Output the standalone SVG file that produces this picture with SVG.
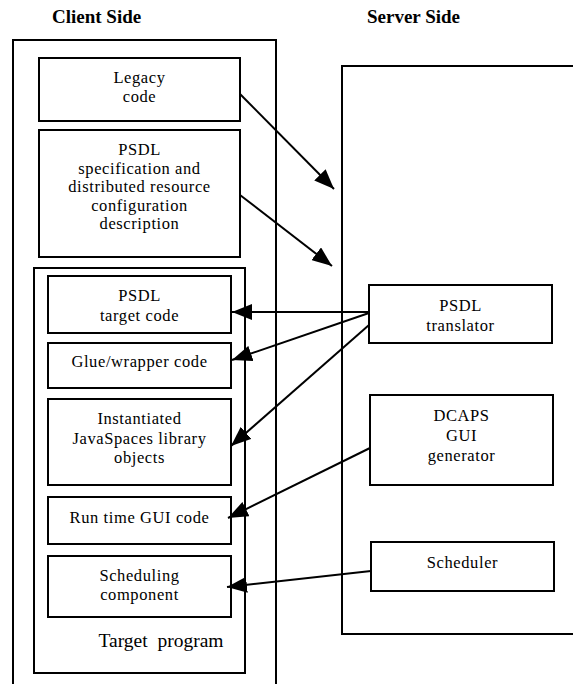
<svg xmlns="http://www.w3.org/2000/svg" width="573" height="684" viewBox="0 0 573 684">
<style>
.box{fill:none;stroke:#000;stroke-width:2}
.t{font-family:'Liberation Serif','DejaVu Serif',Tinos,'Times New Roman',serif;font-size:16.5px;letter-spacing:0.6px;text-anchor:middle;fill:#000}
.h{font-family:'Liberation Serif','DejaVu Serif',Tinos,'Times New Roman',serif;font-size:19px;font-weight:bold;fill:#000}
.c{fill:none;stroke:#000;stroke-width:2;marker-end:url(#ah)}
</style>
<defs>
<marker id="ah" viewBox="0 0 20 16" refX="20" refY="8" markerWidth="20" markerHeight="16" markerUnits="userSpaceOnUse" orient="auto">
<path d="M0,0 L20,8 L0,16 Z" fill="#000"/>
</marker>
</defs>
<rect width="573" height="684" fill="#fff"/>
<text class="h" x="52" y="23">Client Side</text>
<text class="h" x="367" y="23">Server Side</text>
<g id="client-side"><rect class="box" x="13" y="40" width="263" height="660"/></g>
<g id="server-side"><rect class="box" x="342" y="66" width="250" height="568"/></g>
<g id="legacy-code"><rect class="box" x="39" y="58" width="201" height="63"/>
<text class="t" x="139.5" y="83">Legacy</text><text class="t" x="139.5" y="102">code</text></g>
<g id="psdl-spec"><rect class="box" x="39" y="130" width="201" height="127"/>
<text class="t" x="139.5" y="155">PSDL</text>
<text class="t" x="139.5" y="173.5">specification and</text>
<text class="t" x="139.5" y="192">distributed resource</text>
<text class="t" x="139.5" y="210.5">configuration</text>
<text class="t" x="139.5" y="229">description</text></g>
<g id="target-program"><rect class="box" x="34" y="268" width="211" height="405"/>
<text class="t" x="161" y="647" style="font-size:19.5px;letter-spacing:0;white-space:pre" xml:space="preserve">Target  program</text></g>
<g id="psdl-target-code"><rect class="box" x="48" y="276" width="183" height="57"/>
<text class="t" x="139.5" y="301">PSDL</text><text class="t" x="139.5" y="321">target code</text></g>
<g id="glue-code"><rect class="box" x="48" y="343" width="183" height="45"/>
<text class="t" x="139.5" y="367">Glue/wrapper code</text></g>
<g id="javaspaces"><rect class="box" x="48" y="399" width="183" height="86"/>
<text class="t" x="139.5" y="424">Instantiated</text>
<text class="t" x="139.5" y="444">JavaSpaces library</text>
<text class="t" x="139.5" y="463">objects</text></g>
<g id="runtime-gui"><rect class="box" x="48" y="497" width="183" height="47"/>
<text class="t" x="139.5" y="523">Run time GUI code</text></g>
<g id="scheduling-component"><rect class="box" x="48" y="556" width="183" height="61"/>
<text class="t" x="139.5" y="581">Scheduling</text><text class="t" x="139.5" y="600">component</text></g>
<g id="psdl-translator"><rect class="box" x="369" y="285" width="183" height="58"/>
<text class="t" x="460.5" y="311">PSDL</text><text class="t" x="460.5" y="331">translator</text></g>
<g id="dcaps-gui-generator"><rect class="box" x="370" y="395" width="183" height="90"/>
<text class="t" x="461.5" y="421">DCAPS</text><text class="t" x="461.5" y="441">GUI</text><text class="t" x="461.5" y="461">generator</text></g>
<g id="scheduler"><rect class="box" x="371" y="542" width="183" height="49"/>
<text class="t" x="462.5" y="568">Scheduler</text></g>
<g id="connectors">
<line class="c" x1="240" y1="94" x2="334" y2="189"/>
<line class="c" x1="240" y1="195" x2="332" y2="266"/>
<line class="c" x1="369" y1="312" x2="232" y2="312"/>
<line class="c" x1="369" y1="313" x2="232" y2="360"/>
<line class="c" x1="369" y1="325" x2="231" y2="446"/>
<line class="c" x1="370" y1="448" x2="228" y2="518"/>
<line class="c" x1="371" y1="571" x2="227" y2="587"/>
</g>
</svg>
